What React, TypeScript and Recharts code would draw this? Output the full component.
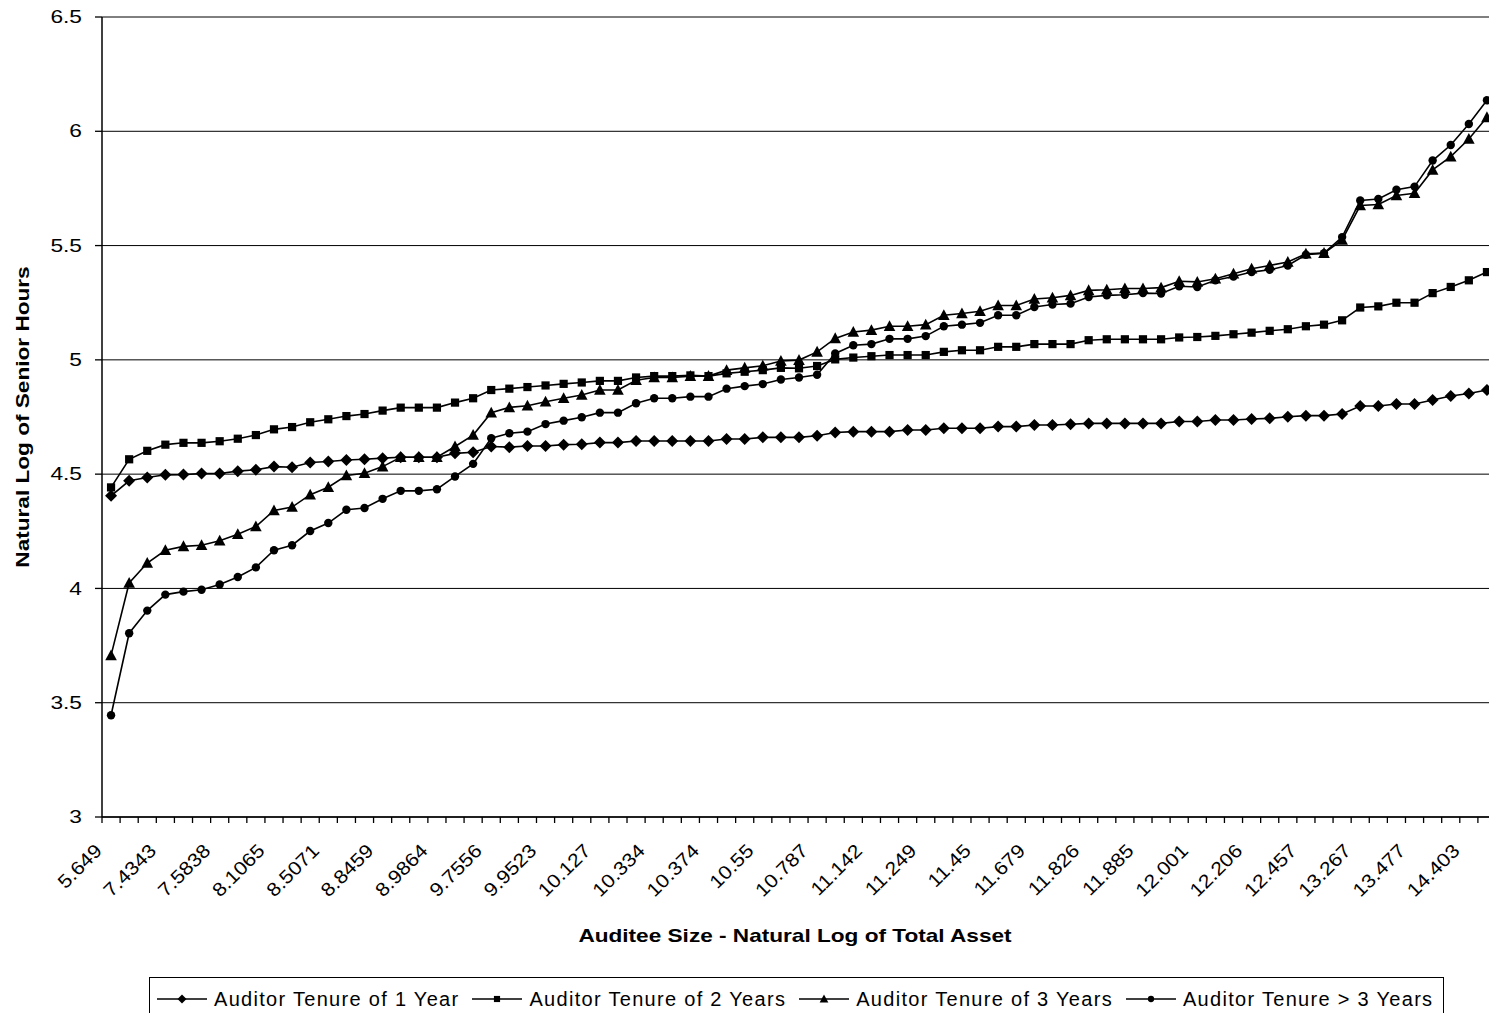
import { LineChart, Line, XAxis, YAxis, CartesianGrid, Legend, Label } from "recharts";

// x-axis labels (Excel shows every third category)
const TICK_LABELS = [
  "5.649", "7.4343", "7.5838", "8.1065", "8.5071", "8.8459", "8.9864", "9.7556", "9.9523",
  "10.127", "10.334", "10.374", "10.55", "10.787", "11.142", "11.249", "11.45", "11.679",
  "11.826", "11.885", "12.001", "12.206", "12.457", "13.267", "13.477", "14.403",
];

const TENURE_1 = [
  4.405, 4.471, 4.485, 4.497, 4.498, 4.503, 4.503, 4.513, 4.519, 4.533, 4.530, 4.551, 4.555, 4.562,
  4.565, 4.570, 4.574, 4.574, 4.574, 4.591, 4.596, 4.621, 4.618, 4.623, 4.623, 4.629, 4.631, 4.638,
  4.638, 4.645, 4.645, 4.645, 4.645, 4.645, 4.654, 4.654, 4.661, 4.661, 4.661, 4.668, 4.682, 4.686,
  4.686, 4.686, 4.693, 4.693, 4.701, 4.701, 4.701, 4.708, 4.708, 4.715, 4.715, 4.718, 4.722, 4.722,
  4.722, 4.722, 4.722, 4.730, 4.730, 4.737, 4.737, 4.741, 4.744, 4.751, 4.756, 4.756, 4.763, 4.798,
  4.798, 4.807, 4.807, 4.824, 4.842, 4.853, 4.868,
];

const TENURE_2 = [
  4.442, 4.565, 4.602, 4.629, 4.637, 4.637, 4.644, 4.655, 4.671, 4.696, 4.706, 4.727, 4.740, 4.754,
  4.763, 4.778, 4.791, 4.791, 4.791, 4.813, 4.832, 4.868, 4.874, 4.881, 4.888, 4.895, 4.901, 4.908,
  4.908, 4.923, 4.929, 4.929, 4.932, 4.929, 4.941, 4.948, 4.955, 4.965, 4.963, 4.973, 5.002, 5.010,
  5.016, 5.021, 5.021, 5.021, 5.035, 5.042, 5.042, 5.057, 5.057, 5.069, 5.069, 5.069, 5.086, 5.090,
  5.090, 5.090, 5.090, 5.098, 5.100, 5.105, 5.112, 5.119, 5.127, 5.134, 5.147, 5.154, 5.173, 5.229,
  5.234, 5.250, 5.250, 5.292, 5.319, 5.348, 5.384,
];

const TENURE_3 = [
  3.707, 4.024, 4.111, 4.167, 4.184, 4.189, 4.209, 4.237, 4.271, 4.341, 4.356, 4.410, 4.443, 4.494,
  4.504, 4.533, 4.574, 4.574, 4.574, 4.621, 4.671, 4.769, 4.792, 4.799, 4.817, 4.832, 4.846, 4.868,
  4.868, 4.911, 4.923, 4.923, 4.929, 4.929, 4.955, 4.965, 4.974, 4.995, 4.999, 5.035, 5.094, 5.122,
  5.130, 5.147, 5.147, 5.154, 5.195, 5.203, 5.213, 5.238, 5.238, 5.266, 5.272, 5.282, 5.304, 5.307,
  5.312, 5.312, 5.316, 5.344, 5.341, 5.355, 5.377, 5.399, 5.413, 5.428, 5.464, 5.467, 5.525, 5.675,
  5.680, 5.719, 5.729, 5.831, 5.889, 5.966, 6.061,
];

const TENURE_4 = [
  3.445, 3.804, 3.903, 3.973, 3.986, 3.994, 4.017, 4.050, 4.092, 4.167, 4.189, 4.251, 4.286, 4.344,
  4.352, 4.392, 4.427, 4.427, 4.434, 4.490, 4.545, 4.657, 4.679, 4.686, 4.719, 4.734, 4.749, 4.769,
  4.769, 4.810, 4.832, 4.832, 4.839, 4.839, 4.874, 4.885, 4.894, 4.914, 4.923, 4.935, 5.028, 5.064,
  5.069, 5.092, 5.092, 5.104, 5.147, 5.154, 5.162, 5.195, 5.195, 5.231, 5.242, 5.246, 5.275, 5.282,
  5.285, 5.292, 5.290, 5.322, 5.319, 5.348, 5.365, 5.384, 5.394, 5.413, 5.460, 5.467, 5.537, 5.697,
  5.704, 5.744, 5.758, 5.872, 5.940, 6.032, 6.136,
];

const Y_TICKS = [3, 3.5, 4, 4.5, 5, 5.5, 6, 6.5];

const SERIES_NAMES = [
  "Auditor Tenure of 1 Year",
  "Auditor Tenure of 2 Years",
  "Auditor Tenure of 3 Years",
  "Auditor Tenure > 3 Years",
];

const FONT = 'Arial, "Liberation Sans", sans-serif';
const CHART_W = 1500;
const CHART_H = 1013;
const MARGIN = { top: 17, right: 4, bottom: 0, left: 0 };
const Y_AXIS_W = 102;
const X_AXIS_H = 196;
const BAND = (CHART_W - Y_AXIS_W - MARGIN.left - MARGIN.right) / TENURE_1.length;

const data = TENURE_1.map((v, i) => ({
  idx: i,
  t1: v,
  t2: TENURE_2[i],
  t3: TENURE_3[i],
  t4: TENURE_4[i],
}));

// marker shapes, same as Excel's default black series
type Shape = "diamond" | "square" | "triangle" | "circle";

function marker(shape: Shape, cx: number, cy: number, s = 1) {
  if (shape === "diamond") {
    const r = 6 * s;
    return <path d={`M${cx},${cy - r}L${cx + r},${cy}L${cx},${cy + r}L${cx - r},${cy}Z`} fill="#000" />;
  }
  if (shape === "square") {
    const h = 4.1 * s;
    return <rect x={cx - h} y={cy - h} width={2 * h} height={2 * h} fill="#000" />;
  }
  if (shape === "triangle") {
    const w = 5.8 * s;
    return <path d={`M${cx},${cy - 6 * s}L${cx + w},${cy + 4.8 * s}L${cx - w},${cy + 4.8 * s}Z`} fill="#000" />;
  }
  return <circle cx={cx} cy={cy} r={4.2 * s} fill="#000" />;
}

const dotFor = (shape: Shape) => (props: any) => (
  <g key={`${shape}-${props.index}`}>{marker(shape, props.cx, props.cy)}</g>
);

function XTick({ x, y, payload }: any) {
  const i = Number(payload.value);
  const label = i % 3 === 0 ? TICK_LABELS[i / 3] : null;
  const bx = x - BAND / 2;
  return (
    <g>
      <line x1={bx} y1={y} x2={bx} y2={y + 6} stroke="#000" strokeWidth={1.3} />
      {label && (
        <text
          transform={`translate(${x - 8},${y + 35}) rotate(-45) scale(1.12,1)`}
          textAnchor="end"
          fontSize={19}
          fontFamily={FONT}
          fill="#000"
        >
          {label}
        </text>
      )}
    </g>
  );
}

function YTick({ x, y, payload }: any) {
  return (
    <text
      transform={`translate(${x},${y}) scale(1.3,1)`}
      textAnchor="end"
      dy="0.35em"
      fontSize={17.5}
      fontFamily={FONT}
      fill="#000"
    >
      {payload.value}
    </text>
  );
}

function LegendBox() {
  const shapes: Shape[] = ["diamond", "square", "triangle", "circle"];
  return (
    <div
      style={{
        display: "flex",
        alignItems: "center",
        border: "1px solid #000",
        height: 44,
        padding: "0 10px 0 7px",
        fontFamily: FONT,
        fontSize: 20,
        letterSpacing: 1.3,
        color: "#000",
        background: "#fff",
        boxSizing: "border-box",
        whiteSpace: "nowrap",
      }}
    >
      {SERIES_NAMES.map((name, k) => (
        <div key={name} style={{ display: "flex", alignItems: "center", marginLeft: k === 0 ? 0 : 13 }}>
          <svg width={50} height={20} style={{ marginRight: 7 }}>
            <line x1={0} y1={10} x2={50} y2={10} stroke="#000" strokeWidth={1.5} />
            {marker(shapes[k], 25, 10, 0.75)}
          </svg>
          <span>{name}</span>
        </div>
      ))}
    </div>
  );
}

export default function App() {
  return (
    <div
      style={{
        position: "fixed",
        left: 0,
        top: 0,
        width: 1489,
        height: 1013,
        overflow: "hidden",
        background: "#fff",
      }}
    >
      <LineChart width={CHART_W} height={CHART_H} data={data} margin={MARGIN}>
        <CartesianGrid vertical={false} stroke="#000" strokeWidth={1} />
        <XAxis
          dataKey="idx"
          type="category"
          interval={0}
          height={X_AXIS_H}
          padding={{ left: BAND / 2, right: BAND / 2 }}
          tick={<XTick />}
          tickLine={false}
          tickSize={0}
          tickMargin={0}
          axisLine={{ stroke: "#000", strokeWidth: 1.5 }}
        >
          <Label
            content={({ viewBox }: any) => (
              <text
                transform={`translate(${viewBox.x + viewBox.width / 2 - 4},${viewBox.y + 118}) scale(1.19,1)`}
                textAnchor="middle"
                dy="0.35em"
                fontSize={19}
                fontWeight="bold"
                fontFamily={FONT}
                fill="#000"
              >
                Auditee Size - Natural Log of Total Asset
              </text>
            )}
          />
        </XAxis>
        <YAxis
          domain={[3, 6.5]}
          ticks={Y_TICKS}
          width={Y_AXIS_W}
          tick={<YTick />}
          tickSize={7}
          tickMargin={13}
          tickLine={{ stroke: "#000", strokeWidth: 1.3 }}
          axisLine={{ stroke: "#000", strokeWidth: 1.5 }}
          allowDataOverflow
        >
          <Label
            content={({ viewBox }: any) => (
              <text
                transform={`translate(22,${viewBox.y + viewBox.height / 2}) rotate(-90) scale(1.19,1)`}
                textAnchor="middle"
                dy="0.35em"
                fontSize={19}
                fontWeight="bold"
                fontFamily={FONT}
                fill="#000"
              >
                Natural Log of Senior Hours
              </text>
            )}
          />
        </YAxis>
        <Legend
          layout="horizontal"
          verticalAlign="middle"
          align="center"
          content={<LegendBox />}
          wrapperStyle={{ left: 149, top: 977, width: "auto" }}
        />
        <Line dataKey="t1" name={SERIES_NAMES[0]} stroke="#000" strokeWidth={1.6} dot={dotFor("diamond")} activeDot={false} isAnimationActive={false} />
        <Line dataKey="t2" name={SERIES_NAMES[1]} stroke="#000" strokeWidth={1.6} dot={dotFor("square")} activeDot={false} isAnimationActive={false} />
        <Line dataKey="t3" name={SERIES_NAMES[2]} stroke="#000" strokeWidth={1.6} dot={dotFor("triangle")} activeDot={false} isAnimationActive={false} />
        <Line dataKey="t4" name={SERIES_NAMES[3]} stroke="#000" strokeWidth={1.6} dot={dotFor("circle")} activeDot={false} isAnimationActive={false} />
      </LineChart>
    </div>
  );
}
